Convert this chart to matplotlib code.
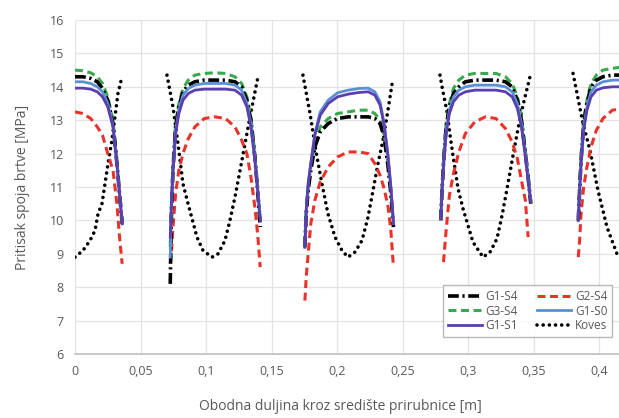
import numpy as np
import matplotlib
matplotlib.use("Agg")
import matplotlib.pyplot as plt
from matplotlib.ticker import FuncFormatter, MultipleLocator

# x positions of the gasket segments (m)
seg1_x = [0, 0.006, 0.012, 0.017, 0.021, 0.025, 0.029, 0.032, 0.034, 0.036]
seg2_x = [0.0727, 0.0737, 0.0748, 0.0768, 0.0793, 0.0824, 0.0865, 0.0915, 0.0987,
          0.1068, 0.1149, 0.1221, 0.1272, 0.1312, 0.1343, 0.1373, 0.1394, 0.1414]
seg3_x = [0.1755, 0.1765, 0.178, 0.18, 0.1831, 0.1872, 0.1933, 0.2004, 0.2085,
          0.2167, 0.2238, 0.2289, 0.2329, 0.236, 0.239, 0.2411, 0.2431]
seg4_x = [0.2792, 0.2802, 0.2813, 0.2833, 0.2858, 0.2889, 0.293, 0.298, 0.3052,
          0.3133, 0.3214, 0.3286, 0.3337, 0.3377, 0.3408, 0.3438, 0.3459, 0.3479]
seg5_x = [0.3842, 0.3852, 0.3863, 0.3883, 0.3908, 0.3939, 0.398, 0.403, 0.4102, 0.4183]

nan = np.nan
# pressure values (MPa) per segment
g1_s4 = [[14.3, 14.3, 14.25, 14.15, 13.95, 13.6, 12.9, 11.7, 10.8, 9.9],
         [8.1, 10.3, 11.5, 12.8, 13.4, 13.85, 14.05, 14.15, 14.2, 14.2, 14.2, 14.15, 14.0, 13.6, 13.0, 11.9, 10.9, 9.8],
         [9.2, 10.2, 10.9, 11.5, 12.2, 12.65, 12.9, 13.05, 13.1, 13.1, 13.1, 13.05, 12.9, 12.5, 11.6, 10.8, 9.8],
         [10.0, 10.9, 11.7, 12.8, 13.4, 13.8, 14.0, 14.15, 14.2, 14.2, 14.2, 14.15, 14.0, 13.6, 13.0, 12.0, 11.3, 10.5],
         [10.0, 10.9, 11.8, 12.9, 13.5, 14.0, 14.2, 14.3, 14.35, 14.35]]
g2_s4 = [[13.25, 13.2, 13.05, 12.8, 12.55, 12.0, 11.5, 10.5, 9.5, 8.7],
         [8.7, 9.1, 9.8, 10.8, 11.5, 12.0, 12.45, 12.8, 13.05, 13.1, 13.05, 12.8, 12.4, 12.0, 11.3, 10.4, 9.6, 8.6],
         [7.6, 8.3, 9.0, 9.9, 10.6, 11.15, 11.6, 11.9, 12.05, 12.05, 12.0, 11.7, 11.35, 10.95, 10.4, 9.7, 8.6],
         [nan, nan, 8.75, 9.7, 10.75, 11.4, 12.05, 12.6, 12.95, 13.1, 13.05, 12.75, 12.35, 11.85, 11.2, 10.6, 9.5, nan],
         [8.9, 9.4, 10.2, 11.0, 11.6, 12.2, 12.7, 13.05, 13.3, 13.35]]
g3_s4 = [[14.5, 14.48, 14.42, 14.3, 14.1, 13.7, 13.0, 11.8, 10.8, 10.0],
         [9.2, 10.6, 11.7, 12.9, 13.5, 13.95, 14.2, 14.35, 14.4, 14.42, 14.4, 14.3, 14.1, 13.7, 13.1, 12.0, 11.0, 10.0],
         [9.3, 10.3, 11.0, 11.6, 12.3, 12.8, 13.05, 13.2, 13.25, 13.3, 13.3, 13.2, 13.0, 12.6, 11.7, 10.9, 9.9],
         [10.1, 11.0, 11.8, 12.9, 13.5, 13.95, 14.2, 14.35, 14.4, 14.4, 14.4, 14.3, 14.1, 13.7, 13.1, 12.1, 11.3, 10.6],
         [10.1, 11.0, 11.9, 13.0, 13.6, 14.1, 14.35, 14.5, 14.55, 14.6]]
g1_s0 = [[14.15, 14.15, 14.1, 14.0, 13.85, 13.5, 12.85, 11.7, 10.8, 9.9],
         [8.9, 10.5, 11.5, 12.7, 13.3, 13.75, 13.95, 14.05, 14.1, 14.1, 14.1, 14.05, 13.9, 13.5, 12.9, 11.9, 11.0, 10.1],
         [9.2, 10.3, 11.1, 11.7, 12.6, 13.25, 13.6, 13.82, 13.9, 13.95, 13.96, 13.85, 13.55, 12.9, 11.9, 11.0, 9.9],
         [10.05, 10.9, 11.7, 12.7, 13.3, 13.7, 13.9, 14.0, 14.05, 14.05, 14.05, 14.0, 13.85, 13.5, 12.9, 12.0, 11.3, 10.6],
         [10.0, 10.9, 11.8, 12.8, 13.4, 13.85, 14.05, 14.15, 14.2, 14.2]]
g1_s1 = [[13.96, 13.96, 13.93, 13.85, 13.7, 13.4, 12.8, 11.7, 10.8, 9.9],
         [9.5, 10.6, 11.5, 12.6, 13.2, 13.6, 13.8, 13.9, 13.93, 13.93, 13.93, 13.9, 13.75, 13.4, 12.8, 11.8, 10.9, 10.0],
         [9.2, 10.3, 11.1, 11.7, 12.55, 13.15, 13.5, 13.7, 13.78, 13.83, 13.85, 13.75, 13.45, 12.85, 11.9, 11.0, 9.9],
         [10.05, 10.9, 11.6, 12.6, 13.2, 13.55, 13.75, 13.85, 13.9, 13.9, 13.9, 13.85, 13.7, 13.35, 12.8, 11.9, 11.2, 10.55],
         [10.0, 10.9, 11.7, 12.7, 13.3, 13.7, 13.9, 13.97, 14.0, 14.0]]

# Koves (analytical) - own x points per segment
koves_x = [[0, 0.0061, 0.0115, 0.0153, 0.0176, 0.0206, 0.0229, 0.0252, 0.0282, 0.0305, 0.0328, 0.0359],
           [0.0702, 0.0748, 0.0786, 0.0824, 0.0863, 0.0931, 0.0977, 0.1046, 0.1092, 0.1145,
            0.1183, 0.1221, 0.126, 0.1298, 0.1336, 0.1397],
           [0.174, 0.1794, 0.1847, 0.1885, 0.1931, 0.1985, 0.2038, 0.2084, 0.2137, 0.2191,
            0.2237, 0.2275, 0.2313, 0.2351, 0.2389, 0.2427],
           [0.2786, 0.2809, 0.284, 0.2863, 0.2885, 0.2924, 0.2962, 0.3, 0.3038, 0.3115,
            0.3168, 0.3221, 0.326, 0.3298, 0.3344, 0.3382, 0.342, 0.3473],
           [0.3802, 0.3878, 0.3931, 0.3992, 0.4061, 0.4137]]
koves_y = [[8.9, 9.1, 9.4, 9.7, 10.2, 10.5, 11.1, 11.7, 12.4, 13.1, 13.8, 14.3],
           [14.35, 13.4, 12.3, 11.1, 10.5, 9.5, 9.1, 8.9, 9.0, 9.4, 10.0, 10.7, 11.5, 12.3, 13.1, 14.3],
           [14.35, 13.2, 11.9, 11.1, 10.2, 9.5, 9.1, 8.9, 9.05, 9.4, 10.1, 10.9, 11.7, 12.4, 13.3, 14.25],
           [14.35, 13.85, 13.25, 12.55, 11.95, 10.95, 10.35, 9.85, 9.35, 8.9, 9.05, 9.45, 10.15,
            10.95, 11.95, 12.75, 13.45, 14.3],
           [14.4, 12.9, 12.1, 10.9, 9.8, 9.0]]

seg_x = [seg1_x, seg2_x, seg3_x, seg4_x, seg5_x]


def join(xs, ys):
    # glue segments together, NaN breaks the line between them
    X, Y = [], []
    for a, b in zip(xs, ys):
        X += list(a) + [nan]
        Y += list(b) + [nan]
    return np.array(X), np.array(Y)


plt.rcParams['font.family'] = ['Open Sans', 'DejaVu Sans']
fig = plt.figure(figsize=(6.19, 4.18), dpi=100)
ax = fig.add_axes([75 / 619, 64 / 418, 544 / 619, 334 / 418])

grey = '#595959'
kx, ky = join(koves_x, koves_y)
h_kov, = ax.plot(kx, ky, color='black', lw=2.6, linestyle=(0, (0.01, 1.7)),
                 dash_capstyle='round', label='Koves', zorder=3)
x, y = join(seg_x, g2_s4)
h_g2, = ax.plot(x, y, color='#e8332a', lw=2.2, linestyle=(0, (2.6, 1.5)), label='G2-S4', zorder=4)
x, y = join(seg_x, g3_s4)
h_g3, = ax.plot(x, y, color='#3aa84f', lw=2.2, linestyle=(0, (2.6, 1.5)), label='G3-S4', zorder=4)
x, y = join(seg_x, g1_s4)
h_g1s4, = ax.plot(x, y, color='black', lw=2.6, linestyle=(0, (3, 1, 0.6, 1)), label='G1-S4', zorder=5)
x, y = join(seg_x, g1_s0)
h_s0, = ax.plot(x, y, color='#5a8fd4', lw=2.0, label='G1-S0', zorder=6)
x, y = join(seg_x, g1_s1)
h_s1, = ax.plot(x, y, color='#5b3fb0', lw=2.0, label='G1-S1', zorder=7)

ax.set_xlim(0, 544 / 1310)
ax.set_ylim(6, 16)
ax.xaxis.set_major_locator(MultipleLocator(0.05))
ax.yaxis.set_major_locator(MultipleLocator(1))
ax.xaxis.set_major_formatter(FuncFormatter(lambda v, p: ('%g' % round(v, 3)).replace('.', ',')))
ax.grid(True, color='#e3e3e3', lw=0.9)
ax.set_axisbelow(True)
for s in ['top', 'right', 'left']:
    ax.spines[s].set_visible(False)
ax.spines['bottom'].set_color('#bfbfbf')
ax.spines['bottom'].set_linewidth(1.2)
ax.tick_params(length=0, colors=grey, labelsize=9, pad=8)

ax.set_ylabel('Pritisak spoja brtve [MPa]', color=grey, fontsize=10, labelpad=14)
ax.set_xlabel('Obodna duljina kroz središte prirubnice [m]', color=grey, fontsize=10)
ax.xaxis.set_label_coords((340 - 75) / 544, -0.135)

leg = ax.legend([h_g1s4, h_g3, h_s1, h_g2, h_s0, h_kov],
                ['G1-S4', 'G3-S4', 'G1-S1', 'G2-S4', 'G1-S0', 'Koves'],
                ncol=2, loc='lower right', bbox_to_anchor=((612 - 75) / 544, (354 - 337) / 334),
                fontsize=8.5, frameon=True, fancybox=False, handlelength=2.9,
                handletextpad=0.3, columnspacing=1.6, labelspacing=0.15,
                borderpad=0.4, borderaxespad=0)
leg.get_frame().set_edgecolor('#a6a6a6')
leg.get_frame().set_linewidth(1.0)
for t in leg.get_texts():
    t.set_color(grey)

fig.savefig('out.png', dpi=100)
